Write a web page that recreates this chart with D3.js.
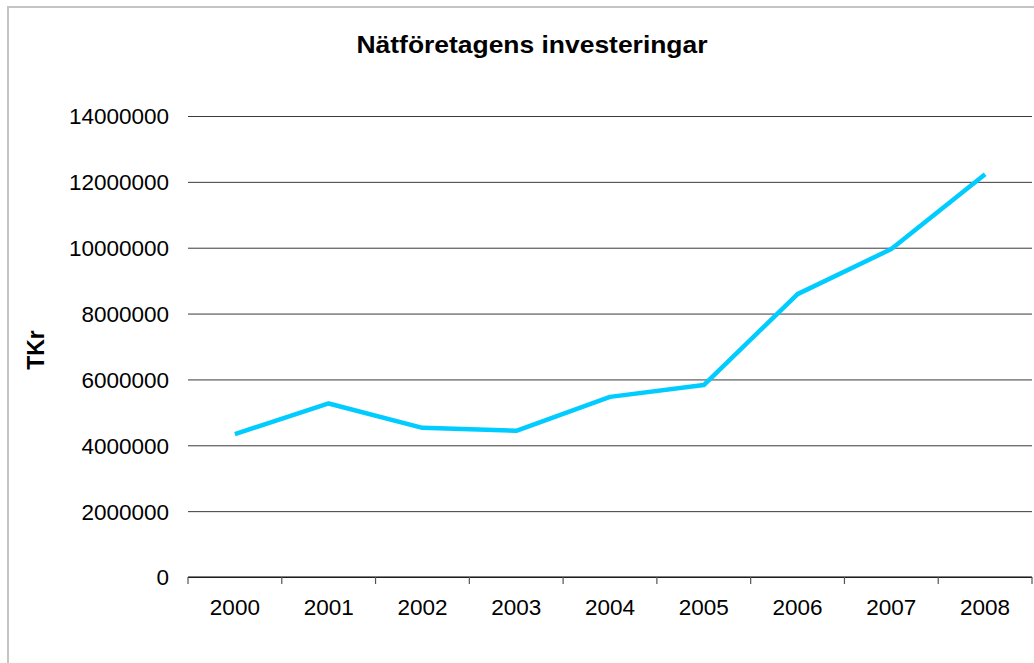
<!DOCTYPE html>
<html>
<head>
<meta charset="utf-8">
<script src="https://cdn.jsdelivr.net/npm/d3@7"></script>
<style>
    body { margin: 0; background: #fff; }
    svg text { font-family: "Liberation Sans", Arial, sans-serif; fill: #000; }
    .axis path { display: none; }
    .grid line { stroke: #3a3a3a; stroke-width: 1; }
    .grid path { display: none; }
</style>
</head>
<body>
<div id="chart"></div>
<script>
const years = ["2000", "2001", "2002", "2003", "2004", "2005", "2006", "2007", "2008"];
const investments = [4340000, 5270000, 4530000, 4440000, 5470000, 5830000, 8590000, 9960000, 12230000];
const yTicks = [0, 2000000, 4000000, 6000000, 8000000, 10000000, 12000000, 14000000];

const width = 1034, height = 663;
const margin = { top: 116, right: 2, bottom: 86, left: 188 };
const innerW = width - margin.left - margin.right;
const innerH = height - margin.top - margin.bottom;

const svg = d3.select("#chart").append("svg")
    .attr("width", width)
    .attr("height", height);

// outer frame (only top/left edges visible)
svg.append("rect")
    .attr("x", 8).attr("y", 7)
    .attr("width", width + 10).attr("height", height + 10)
    .attr("fill", "none")
    .attr("stroke", "#c4c4c4")
    .attr("stroke-width", 2);

const chart = svg.append("g")
    .attr("transform", `translate(${margin.left},${margin.top})`);

const x = d3.scaleBand().domain(years).range([0, innerW]).padding(0);
const y = d3.scaleLinear().domain([0, 14000000]).range([innerH, 0]);

// horizontal gridlines
chart.append("g")
    .attr("class", "grid")
    .call(d3.axisLeft(y).tickValues(yTicks).tickSize(-innerW).tickFormat(""));

// y tick labels
const yAxis = chart.append("g")
    .attr("class", "axis")
    .call(d3.axisLeft(y).tickValues(yTicks).tickSize(0).tickPadding(19).tickFormat(d3.format("d")));
yAxis.selectAll("text").style("font-size", "22.5px").attr("dy", "0.35em");

// x axis baseline + boundary ticks
chart.append("line")
    .attr("x1", 0).attr("x2", innerW)
    .attr("y1", innerH).attr("y2", innerH)
    .attr("stroke", "#000").attr("stroke-width", 1.2);

const boundaries = years.map(d => x(d)).concat([innerW]);
chart.selectAll(".xtick")
    .data(boundaries)
    .join("line")
    .attr("class", "xtick")
    .attr("x1", d => d).attr("x2", d => d)
    .attr("y1", innerH).attr("y2", innerH + 7)
    .attr("stroke", "#555").attr("stroke-width", 1.2);

const xAxis = chart.append("g")
    .attr("class", "axis")
    .attr("transform", `translate(0,${innerH})`)
    .call(d3.axisBottom(x).tickSize(0).tickPadding(22));
xAxis.selectAll("text").style("font-size", "22.5px");

// series line
const line = d3.line()
    .x((d, i) => x(years[i]) + x.bandwidth() / 2)
    .y(d => y(d));

chart.append("path")
    .datum(investments)
    .attr("fill", "none")
    .attr("stroke", "#00CCFF")
    .attr("stroke-width", 4.5)
    .attr("stroke-linejoin", "round")
    .attr("d", line);

// title
svg.append("text")
    .attr("x", 532)
    .attr("y", 53)
    .attr("text-anchor", "middle")
    .attr("textLength", 351)
    .attr("lengthAdjust", "spacingAndGlyphs")
    .style("font-size", "24px")
    .style("font-weight", "bold")
    .text("Nätföretagens investeringar");

// y axis label
svg.append("text")
    .attr("transform", "rotate(-90)")
    .attr("x", -350)
    .attr("y", 44)
    .attr("text-anchor", "middle")
    .style("font-size", "23px")
    .style("font-weight", "bold")
    .text("TKr");
</script>
</body>
</html>
